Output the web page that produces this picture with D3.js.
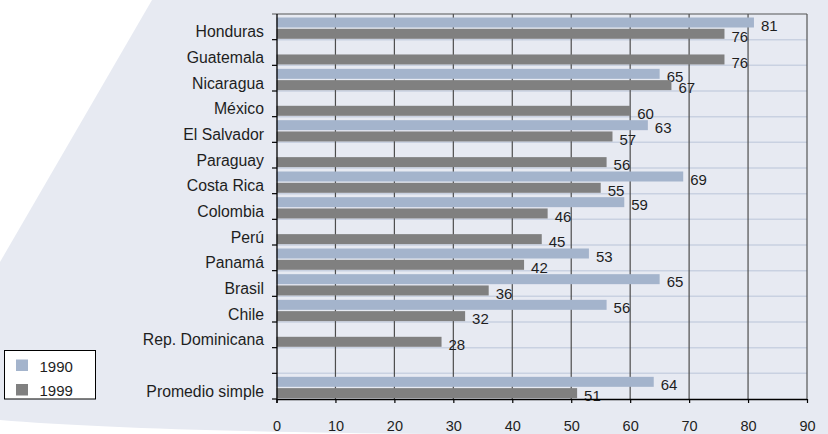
<!DOCTYPE html>
<html>
<head>
<meta charset="utf-8">
<script src="https://cdn.jsdelivr.net/npm/d3@7"></script>
<style>
  html, body { margin: 0; padding: 0; background: #ffffff; }
  svg { display: block; font-family: "Liberation Sans", Arial, sans-serif; }
</style>
</head>
<body>
<svg id="chart" width="828" height="434"></svg>
<script>
// Categories (the empty string is a spacer row before the average)
const categories = ["Honduras", "Guatemala", "Nicaragua", "México", "El Salvador", "Paraguay",
  "Costa Rica", "Colombia", "Perú", "Panamá", "Brasil", "Chile", "Rep. Dominicana", "", "Promedio simple"];
const values1990 = [81, null, 65, null, 63, null, 69, 59, null, 53, 65, 56, null, null, 64];
const values1999 = [76, 76, 67, 60, 57, 56, 55, 46, 45, 42, 36, 32, 28, null, 51];
const seriesNames = ["1990", "1999"];
const xTicks = [0, 10, 20, 30, 40, 50, 60, 70, 80, 90];

const colors = { "1990": "#a4b4cc", "1999": "#808080" };
const bgColor = "#e7eaf2";
const textColor = "#1e1e1e";

const svg = d3.select("#chart");

// Backdrop panel behind the chart
svg.append("path")
  .attr("d", "M152,0 L828,0 L828,434 L430,434 Q130,431 0,420 L0,262 Z")
  .attr("fill", bgColor);

const plot = { left: 277, right: 807, top: 14, bottom: 399 };

const x = d3.scaleLinear().domain([0, 90]).range([276.5, plot.right]);
const y = d3.scaleBand().domain(categories).range([plot.top, plot.bottom]);
const bw = y.bandwidth();

// Horizontal light gridlines at category boundaries
const boundaries = categories.map(c => y(c)).concat([plot.bottom]);
svg.append("g").selectAll("line")
  .data(boundaries.slice(1, -1))
  .join("line")
  .attr("x1", plot.left).attr("x2", plot.right)
  .attr("y1", d => d).attr("y2", d => d)
  .attr("stroke", "#c9d1e1").attr("stroke-width", 1.5);

// Vertical gridlines
svg.append("g").selectAll("line")
  .data(xTicks.filter(t => t > 0 && t < 90))
  .join("line")
  .attr("x1", d => x(d)).attr("x2", d => x(d))
  .attr("y1", plot.top).attr("y2", plot.bottom)
  .attr("stroke", "#4d4d4d").attr("stroke-width", 1.2);

// Plot frame: top and right edges
svg.append("line")
  .attr("x1", plot.left - 5).attr("x2", plot.right)
  .attr("y1", plot.top).attr("y2", plot.top)
  .attr("stroke", "#555").attr("stroke-width", 1.2);
svg.append("line")
  .attr("x1", plot.right).attr("x2", plot.right)
  .attr("y1", plot.top).attr("y2", plot.bottom)
  .attr("stroke", "#555").attr("stroke-width", 1.2);

// Bars and their value labels
const rows = categories.map((c, i) => ({ c, v1990: values1990[i], v1999: values1999[i] }));
const barH = 10;
const offsets = { "1990": 3.5, "1999": 14.8 };

seriesNames.forEach(s => {
  const key = "v" + s;
  const data = rows.filter(r => r[key] != null);
  svg.append("g").selectAll("rect")
    .data(data)
    .join("rect")
    .attr("x", x(0))
    .attr("y", d => y(d.c) + offsets[s])
    .attr("width", d => x(d[key]) - x(0))
    .attr("height", barH)
    .attr("fill", colors[s]);
  svg.append("g").selectAll("text")
    .data(data)
    .join("text")
    .attr("x", d => x(d[key]) + 7)
    .attr("y", d => y(d.c) + offsets[s] + barH / 2 + 8.3)
    .attr("font-size", 15)
    .attr("fill", textColor)
    .text(d => d[key]);
});

// Left axis line and boundary ticks
svg.append("line")
  .attr("x1", plot.left).attr("x2", plot.left)
  .attr("y1", plot.top).attr("y2", plot.bottom + 4)
  .attr("stroke", "#000").attr("stroke-width", 1.3);
svg.append("g").selectAll("line")
  .data(boundaries.slice(1))
  .join("line")
  .attr("x1", plot.left - 5).attr("x2", plot.left)
  .attr("y1", d => d).attr("y2", d => d)
  .attr("stroke", "#000").attr("stroke-width", 1.2);

// Category labels
svg.append("g").selectAll("text")
  .data(categories)
  .join("text")
  .attr("x", 264)
  .attr("y", d => y(d) + bw / 2 + 10.5)
  .attr("text-anchor", "end")
  .attr("font-size", 15.8)
  .attr("fill", textColor)
  .text(d => d);

// Bottom axis
const xAxis = svg.append("g")
  .attr("transform", `translate(0,${plot.bottom})`)
  .call(d3.axisBottom(x).tickValues(xTicks).tickSize(4).tickPadding(18).tickSizeOuter(0));
xAxis.select(".domain").attr("stroke", "#000").attr("stroke-width", 1.5)
  .attr("d", `M${plot.left},0.5H${plot.right}`);
xAxis.selectAll(".tick line").attr("stroke", "#000").attr("stroke-width", 1.2);
xAxis.selectAll(".tick text")
  .attr("font-size", 14.5).attr("fill", textColor)
  .attr("font-family", "'Liberation Sans', Arial, sans-serif");

// Legend
const legend = svg.append("g");
legend.append("rect")
  .attr("x", 4.5).attr("y", 350.5).attr("width", 91).attr("height", 48.5)
  .attr("fill", "#ffffff").attr("stroke", "#000").attr("stroke-width", 1);
seriesNames.forEach((s, i) => {
  legend.append("rect")
    .attr("x", 16).attr("y", 359.5 + i * 24.5).attr("width", 12).attr("height", 11.5)
    .attr("fill", colors[s]);
  legend.append("text")
    .attr("x", 39.5).attr("y", 371.5 + i * 24.2)
    .attr("font-size", 15).attr("fill", textColor)
    .text(s);
});
</script>
</body>
</html>
